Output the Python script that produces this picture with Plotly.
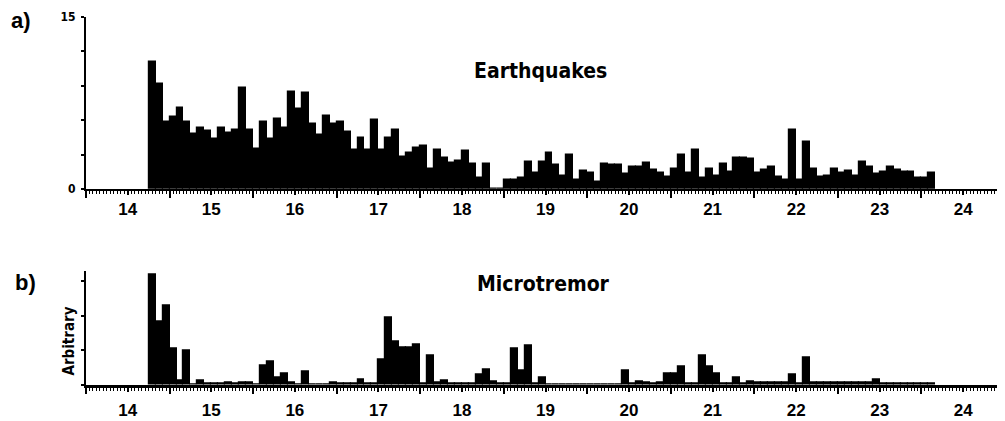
import plotly.graph_objects as go

# ---- data -------------------------------------------------------------
bin_start = 14.25          # first 2-hour bin starts here (days)
bin_width = 1 / 12         # 2-hour bins

earthquakes = [
    11.1, 9.2, 5.9, 6.3, 7.1, 5.9, 4.8, 5.3, 5.1, 4.4,
    5.3, 4.9, 5.2, 8.8, 5.2, 3.5, 5.9, 4.4, 6.1, 5.3,
    8.5, 7.0, 8.4, 5.7, 4.7, 6.4, 5.7, 5.9, 5.0, 3.4,
    4.5, 3.4, 6.0, 3.4, 4.5, 5.2, 2.8, 3.2, 3.6, 3.8,
    1.8, 3.4, 2.7, 2.3, 2.5, 3.3, 2.2, 1.0, 2.2, 0.0,
    0.0, 0.8, 0.8, 1.0, 2.4, 1.4, 2.4, 3.2, 2.1, 1.2,
    3.0, 0.8, 1.6, 1.4, 0.6, 2.2, 2.1, 2.1, 1.3, 1.9,
    1.9, 2.3, 1.7, 1.4, 1.1, 1.8, 3.0, 1.4, 3.4, 1.0,
    1.8, 1.2, 2.2, 1.5, 2.7, 2.7, 2.6, 1.4, 1.7, 1.9,
    1.1, 0.8, 5.2, 0.8, 4.1, 1.8, 1.1, 1.2, 1.8, 1.4,
    1.6, 1.2, 2.4, 1.9, 1.3, 1.5, 1.9, 1.7, 1.5, 1.5,
    1.0, 1.0, 1.4,
]

microtremor = [
    3.19, 1.83, 2.29, 1.04, 0.14, 0.98, 0.00, 0.12, 0.03, 0.03,
    0.03, 0.08, 0.03, 0.08, 0.08, 0.02, 0.56, 0.67, 0.21, 0.34,
    0.08, 0.02, 0.40, 0.00, 0.00, 0.00, 0.08, 0.03, 0.03, 0.03,
    0.17, 0.05, 0.05, 0.74, 1.95, 1.25, 1.08, 1.08, 1.17, 0.05,
    0.86, 0.08, 0.14, 0.05, 0.05, 0.05, 0.05, 0.31, 0.46, 0.10,
    0.03, 0.03, 1.06, 0.43, 1.13, 0.03, 0.21, 0.02, 0.02, 0.02,
    0.02, 0.02, 0.02, 0.02, 0.02, 0.02, 0.02, 0.02, 0.42, 0.05,
    0.10, 0.08, 0.05, 0.08, 0.34, 0.34, 0.53, 0.05, 0.05, 0.85,
    0.53, 0.34, 0.05, 0.05, 0.21, 0.03, 0.10, 0.07, 0.07, 0.07,
    0.07, 0.07, 0.29, 0.05, 0.80, 0.07, 0.07, 0.07, 0.07, 0.07,
    0.07, 0.07, 0.07, 0.07, 0.16, 0.05, 0.05, 0.05, 0.05, 0.05,
    0.05, 0.05, 0.05,
]

day_values = [14, 15, 16, 17, 18, 19, 20, 21, 22, 23, 24]
day_labels = ["14", "15", "16", "17", "18", "19", "20", "21", "22", "23", "24"]
day_bounds = [13.5, 14.5, 15.5, 16.5, 17.5, 18.5, 19.5, 20.5, 21.5, 22.5, 23.5, 24.5]
eq_ticks = [0, 3, 6, 9, 12, 15]
eq_ticktext = ["0", "", "", "", "", "15"]
mt_ticks = [0, 1, 2, 3]

x_centers = [bin_start + (i + 0.5) * bin_width for i in range(len(earthquakes))]

# ---- styling ------------------------------------------------------------
X_RANGE = [13.5, 24.5]
COND = "DejaVu Sans Condensed, Liberation Sans Narrow, sans-serif"
LABEL_FONT = dict(family="Liberation Sans, Arial, sans-serif", size=17, color="black", weight="bold")

fig = go.Figure()
bar_style = dict(color="black", line=dict(color="black", width=1.2))
fig.add_trace(go.Bar(x=x_centers, y=earthquakes, width=bin_width, marker=bar_style,
                     xaxis="x", yaxis="y", showlegend=False, hoverinfo="x+y"))
fig.add_trace(go.Bar(x=x_centers, y=microtremor, width=bin_width, marker=bar_style,
                     xaxis="x2", yaxis="y2", showlegend=False, hoverinfo="x+y"))
# carriers for the overlay axes (day-boundary long ticks)
fig.add_trace(go.Scatter(x=[], y=[], xaxis="x3", yaxis="y", showlegend=False))
fig.add_trace(go.Scatter(x=[], y=[], xaxis="x4", yaxis="y2", showlegend=False))


def main_x(anchor, standoff, lw):
    return dict(
        domain=[0, 1], anchor=anchor, range=X_RANGE, tickmode="array",
        tickvals=day_values, ticktext=day_labels, ticks="outside", ticklen=4,
        tickwidth=1.5, tickcolor="black", showline=True, linewidth=lw,
        linecolor="black", showgrid=False, zeroline=False, tickfont=LABEL_FONT,
        ticklabelstandoff=standoff, automargin=False,
        minor=dict(ticks="outside", tick0=13.5, dtick=1 / 24, ticklen=3,
                   tickwidth=1, tickcolor="black", showgrid=False),
    )


def long_x(over, anchor):
    return dict(
        overlaying=over, anchor=anchor, range=X_RANGE, tickmode="array",
        tickvals=day_bounds, ticks="outside", ticklen=8, tickwidth=2,
        tickcolor="black", showticklabels=False, showline=False,
        showgrid=False, zeroline=False, automargin=False,
    )


# the page body adds an 8px offset, so the figure is 8px smaller each way
fig.update_layout(
    width=997, height=413,
    margin=dict(l=78, r=0, t=0, b=36, autoexpand=False),
    paper_bgcolor="white", plot_bgcolor="white",
    bargap=0,
    xaxis=main_x("y", 0, 2),
    xaxis2=main_x("y2", 4, 2.5),
    xaxis3=long_x("x", "y"),
    xaxis4=long_x("x2", "y2"),
    yaxis=dict(
        domain=[0.5199, 0.9769], anchor="x", range=[0, 15], tickmode="array",
        tickvals=eq_ticks, ticktext=eq_ticktext, ticks="outside", ticklen=3,
        tickwidth=1.5, tickcolor="black", showline=True, linewidth=2,
        linecolor="black", showgrid=False, zeroline=False, automargin=False,
        tickfont=dict(family=COND, size=12, color="black", weight="bold"),
        ticklabelstandoff=3,
    ),
    yaxis2=dict(
        domain=[0, 0.3037], anchor="x2", range=[0, 3.3], tickmode="array",
        tickvals=mt_ticks, ticks="outside", ticklen=3, tickwidth=1.5,
        tickcolor="black", showticklabels=False, showline=True, linewidth=2,
        linecolor="black", showgrid=False, zeroline=False, automargin=False,
    ),
)

ann_font_big = dict(family=COND, size=21, color="black", weight="bold")
fig.add_annotation(text="Earthquakes", xref="paper", yref="paper", x=0.4946, y=0.8329,
                   showarrow=False, font=ann_font_big, xanchor="center", yanchor="middle")
fig.add_annotation(text="Microtremor", xref="paper", yref="paper", x=0.4973, y=0.2679,
                   showarrow=False, font=ann_font_big, xanchor="center", yanchor="middle")
fig.add_annotation(text="Arbitrary", xref="paper", yref="paper", x=-0.019, y=0.1167,
                   showarrow=False, textangle=-90,
                   font=dict(family=COND, size=15, color="black", weight="bold"),
                   xanchor="center", yanchor="middle")
panel_font = dict(family="Liberation Sans, Arial, sans-serif", size=22, color="black", weight="bold")
fig.add_annotation(text="a)", xref="paper", yref="paper", x=-0.0707, y=1.0,
                   showarrow=False, font=panel_font, xanchor="center", yanchor="top",
                   yshift=2)
fig.add_annotation(text="b)", xref="paper", yref="paper", x=-0.0653, y=0.2732,
                   showarrow=False, font=panel_font, xanchor="center", yanchor="middle")

fig.write_html("out.html")
